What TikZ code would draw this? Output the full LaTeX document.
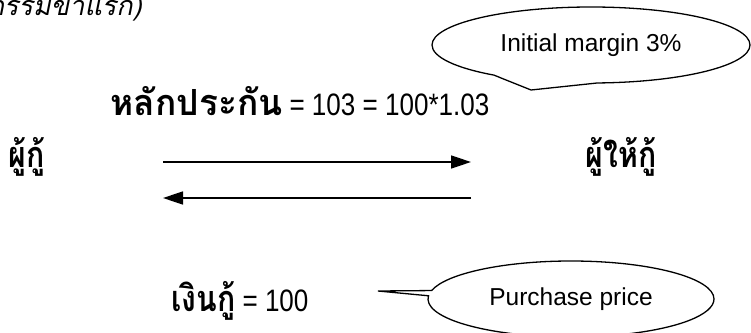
\documentclass[tikz,border=0pt]{standalone}
\usepackage{fontspec}
\setmainfont{Liberation Sans}
\newfontfamily\thai[Script=Thai]{Loma}
\newfontfamily\thaiit[Script=Thai,FakeSlant=0.2]{Loma}
\usetikzlibrary{shapes.callouts,arrows.meta}
\newcommand{\thw}[2]{\scalebox{#1}[1]{\thai\bfseries\fontsize{36}{42}\selectfont #2}}
\newcommand{\ltn}[1]{\scalebox{0.84}[1]{\rmfamily\fontsize{31}{36}\selectfont #1}}
\begin{document}
\begin{tikzpicture}[x=1pt,y=-1pt,
  lbl/.style={inner sep=0pt, anchor=base},
  bubble/.style={ellipse callout, draw, line width=1.3pt, font=\fontsize{24.5}{29}\selectfont, inner sep=0pt},
  flow/.style={line width=1.6pt, -{Triangle[length=20pt,width=13pt]}}]
\clip (0,0) rectangle (751,332);
\node[font=\thaiit\fontsize{27}{30}\selectfont, inner sep=0pt, anchor=base east] (title) at (142,15) {(ธุรกรรมขาแรก)};
\node[lbl] (collat) at (300,115) {\thw{0.98}{หลักประกัน}\hspace{7pt}\ltn{= 103 = 100*1.03}};
\node[lbl] (borrower) at (27,167) {\thw{0.84}{ผู้กู้}};
\node[lbl] (lender) at (621,167) {\thw{0.84}{ผู้ให้กู้}};
\node[lbl] (loan) at (240,311) {\thw{0.84}{เงินกู้}\hspace{7pt}\ltn{= 100}};
\coordinate (a1s) at (163,162);
\coordinate (a1e) at (471,162);
\coordinate (a2s) at (471,198);
\coordinate (a2e) at (163,198);
\draw[flow] (a1s) -- (a1e);
\draw[flow] (a2s) -- (a2e);
\node[bubble, minimum width=318pt, minimum height=76pt, callout absolute pointer={(531,90)}, callout pointer arc=40] (margin) at (591,45) {Initial margin 3\%};
\node[bubble, minimum width=286pt, minimum height=76pt, callout absolute pointer={(378,291)}, callout pointer arc=8] (price) at (571,299) {Purchase price};
\end{tikzpicture}
\end{document}
